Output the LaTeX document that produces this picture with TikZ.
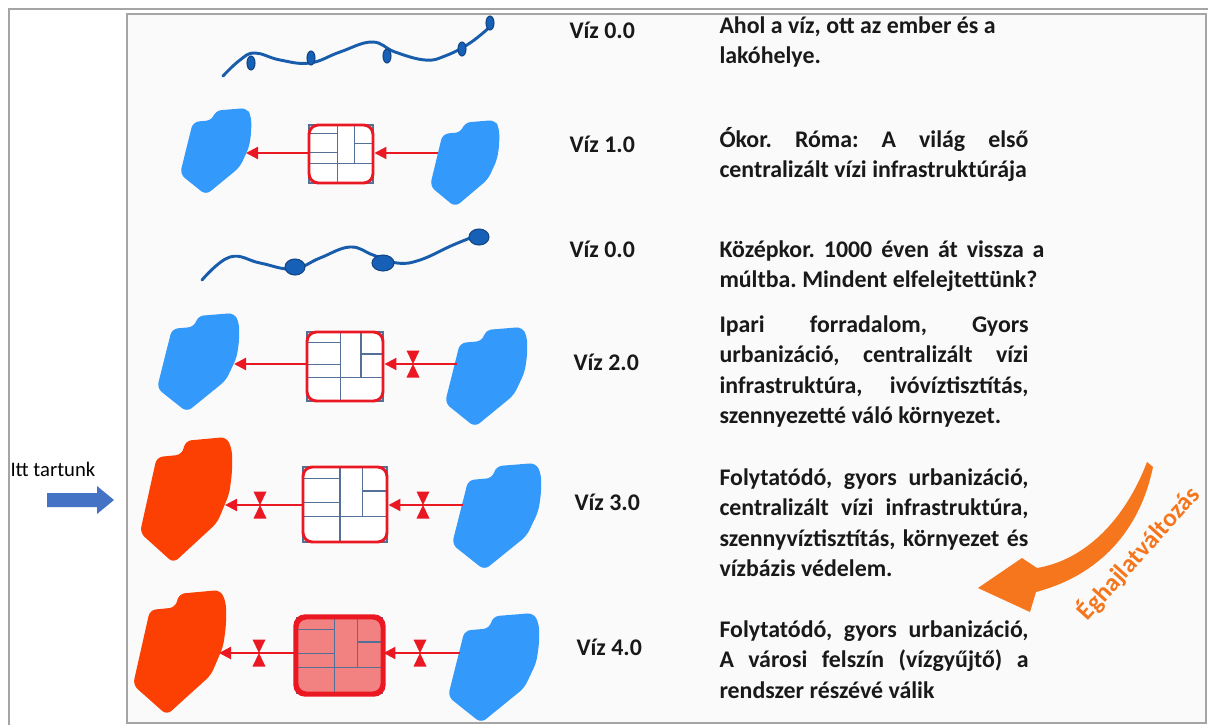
\documentclass[tikz,border=0pt]{standalone}
\usepackage{fontspec}
\setmainfont{Carlito}
\usetikzlibrary{arrows.meta}

\definecolor{lakeblue}{RGB}{51,153,250}
\definecolor{hotred}{RGB}{252,64,4}
\definecolor{pipered}{RGB}{234,24,34}
\definecolor{filtpink}{RGB}{242,130,130}
\definecolor{gridblue}{RGB}{84,112,150}
\definecolor{riverblue}{RGB}{24,92,172}
\definecolor{dropblue}{RGB}{22,96,184}
\definecolor{climorange}{RGB}{245,118,28}
\definecolor{nowblue}{RGB}{68,114,196}
\definecolor{panelgray}{RGB}{250,250,250}
\definecolor{framegray}{RGB}{165,165,165}
\definecolor{inktext}{RGB}{25,25,25}

\tikzset{every picture/.style={line width=0.75pt}}
\tikzset{
  pipe/.style={draw=pipered, line width=1.6pt, -{Triangle[length=9pt,width=9pt]}},
  filt/.style={draw=pipered, line width=2.2pt, rounded corners=7pt, inner sep=0pt},
  gridln/.style={draw=gridblue, line width=0.9pt},
  river/.style={draw=riverblue, line width=2.2pt, line cap=round},
  drop/.style={fill=dropblue, draw=riverblue!75!black, line width=0.8pt},
  vizlbl/.style={anchor=base west, inner sep=0pt, text=inktext, font=\bfseries\fontsize{17.9}{22.9}\selectfont},
  desclbl/.style={anchor=base west, inner sep=0pt, text=inktext, font=\bfseries\fontsize{17.9}{22.9}\selectfont}
}

% lake shape in a unit box: colour, x, y, w, h
\newcommand{\lake}[5]{%
  \fill[#1, rounded corners=4.5pt, shift={(#2,#3)}, xscale=#4, yscale=#5] (0.18,0.16) -- (0.45,0.14) -- (0.49,0.03) -- (0.93,0.0) -- (0.99,0.10) -- (0.99,0.28) -- (0.96,0.45) -- (0.83,0.68) -- (0.36,1.0) -- (0.0,0.76) -- (0.09,0.46) -- cycle;
}
% treatment box: name, x, y, w, h, fill
\newcommand{\filtbox}[6]{%
  \fill[#6, rounded corners=7pt] (#2,#3) rectangle ++(#4,#5);
  \begin{scope}[shift={(#2,#3)}, xscale=#4, yscale=#5]
    \draw[gridln] (0,0) rectangle (1,1);
    \draw[gridln] (0.44,0) -- (0.44,1) (0.71,0) -- (0.71,0.66) (0,0.15) -- (0.44,0.15) (0,0.47) -- (0.44,0.47) (0,0.66) -- (1,0.66) (0.71,0.32) -- (1,0.32);
  \end{scope}
  \node[filt, minimum width=#4*0.75pt, minimum height=#5*0.75pt] (#1) at ({#2+#4/2},{#3+#5/2}) {};
}
% valve on a pipe
\newcommand{\valve}[1]{%
  \fill[pipered, shift={(#1)}] (-6.5,-13.5) -- (6.5,-13.5) -- (0,0) -- cycle (-6.5,13.5) -- (6.5,13.5) -- (0,0) -- cycle;
}
\newcommand{\jl}[2]{\hbox to #1{#2}}

\begin{document}
\frenchspacing
\begin{tikzpicture}[x=0.75pt,y=0.75pt,yscale=-1,xscale=1]
\useasboundingbox (0,0) rectangle (1208,725);
\fill[white] (0,0) rectangle (1208,725);

% frames
\draw[framegray, line width=1.5pt] (9,730) -- (9,9) -- (1215,9);
\draw[framegray, fill=panelgray, line width=1.5pt] (127,14) rectangle (1206,723);

% Itt tartunk
\node[anchor=base west, inner sep=0pt, text=black, font=\fontsize{15.5}{18}\selectfont] (now) at (10,476) {Itt tartunk};
\fill[nowblue] (47,493) -- (97,493) -- (97,486) -- (114,500) -- (97,514) -- (97,507) -- (47,507) -- cycle;

% row 1: river with settlements
\draw[river] plot[smooth, tension=0.7] coordinates {(223,76) (240,60) (255,53) (280,60) (310,63) (340,52) (372,42) (395,52) (425,60) (445,56) (470,43) (492,25)};
\foreach \x/\y in {251/63, 311/58, 387/56, 462/49, 490/23}
  \draw[drop] (\x,\y) ellipse [x radius=4, y radius=7];

% row 2
\lake{lakeblue}{180}{108}{72}{87}
\lake{lakeblue}{430}{120}{70}{87}
\filtbox{f2}{309}{125}{64}{58}{white}
\coordinate (w2L) at (246,153);
\coordinate (w2R) at (438,153);
\draw[pipe] (w2R) -- (f2.east |- w2R);
\draw[pipe] (f2.west |- w2L) -- (w2L);

% row 3: river again
\draw[river] plot[smooth, tension=0.7] coordinates {(202,280) (230,257) (260,263) (293,269) (320,258) (350,247) (373,255) (397,263) (420,260) (453,245) (478,235)};
\foreach \x/\y/\a in {295/267/10, 383/263/11, 479/237/10}
  \draw[drop] (\x,\y) ellipse [x radius=\a, y radius=8];

% row 4
\lake{lakeblue}{157}{313}{83}{99}
\lake{lakeblue}{445}{327}{83}{100}
\filtbox{f4}{307}{332}{76}{69}{white}
\coordinate (w4L) at (234,364);
\coordinate (w4R) at (457,364);
\coordinate (v4R) at (413,364);
\draw[pipe] (w4R) -- (f4.east |- w4R);
\draw[pipe] (f4.west |- w4L) -- (w4L);
\valve{v4R}

% row 5
\lake{hotred}{140}{437}{93}{126}
\lake{lakeblue}{452}{463}{90}{107}
\filtbox{f5}{303}{467}{84}{75}{white}
\coordinate (w5L) at (225,505);
\coordinate (w5R) at (463,505);
\coordinate (v5L) at (260,505);
\coordinate (v5R) at (423,505);
\draw[pipe] (w5R) -- (f5.east |- w5R);
\draw[pipe] (f5.west |- w5L) -- (w5L);
\valve{v5L}
\valve{v5R}

% row 6
\lake{hotred}{133}{590}{94}{125}
\lake{lakeblue}{448}{613}{92}{110}
\filtbox{f6}{297}{618}{85}{75}{filtpink}
\draw[pipered, line width=3.2pt, rounded corners=7pt] (f6.south west) rectangle (f6.north east);
\coordinate (w6L) at (219,653);
\coordinate (w6R) at (460,653);
\coordinate (v6L) at (259,653);
\coordinate (v6R) at (420,653);
\draw[pipe] (w6R) -- (f6.east |- w6R);
\draw[pipe] (f6.west |- w6L) -- (w6L);
\valve{v6L}
\valve{v6R}

% labels
\node[vizlbl] (z1) at (569,38) {Víz 0.0};
\node[vizlbl] (z2) at (569,152) {Víz 1.0};
\node[vizlbl] (z3) at (569,257) {Víz 0.0};
\node[vizlbl] (z4) at (573,370) {Víz 2.0};
\node[vizlbl] (z5) at (574,510) {Víz 3.0};
\node[vizlbl] (z6) at (576,655) {Víz 4.0};

% descriptions
\node[desclbl] (d1) at (719,33) {\vtop{\hbox{Ahol a víz, ott az ember és a}\hbox{lakóhelye.}}};
\node[desclbl] (d2) at (719,147) {\vtop{\jl{231.75pt}{Ókor. Róma: A világ első}\hbox{centralizált vízi infrastruktúrája}}};
\node[desclbl] (d3) at (719,257) {\vtop{\jl{243.75pt}{Középkor. 1000 éven át vissza a}\hbox{múltba. Mindent elfelejtettünk?}}};
\node[desclbl] (d4) at (719,332) {\vtop{\jl{231.75pt}{Ipari forradalom, Gyors}\jl{231.75pt}{urbanizáció, centralizált vízi}\jl{231.75pt}{infrastruktúra, ivóvíztisztítás,}\hbox{szennyezetté váló környezet.}}};
\node[desclbl] (d5) at (719,485) {\vtop{\jl{231.75pt}{Folytatódó, gyors urbanizáció,}\jl{231.75pt}{centralizált vízi infrastruktúra,}\jl{231.75pt}{szennyvíztisztítás, környezet és}\hbox{vízbázis védelem.}}};
\node[desclbl] (d6) at (719,637) {\vtop{\jl{231.75pt}{Folytatódó, gyors urbanizáció,}\jl{231.75pt}{A városi felszín (vízgyűjtő) a}\hbox{rendszer részévé válik}}};

% climate change arrow
\fill[climorange] (1147,462) .. controls (1125,520) and (1085,560) .. (1037,568) -- (1022,558) -- (978,588) -- (1030,612) -- (1036,592) .. controls (1100,575) and (1140,530) .. (1153,467) -- cycle;
\node[rotate=48, inner sep=0pt, text=climorange, font=\bfseries\fontsize{19}{22}\selectfont] (clim) at (1138,553) {Éghajlatváltozás};

\end{tikzpicture}
\end{document}
